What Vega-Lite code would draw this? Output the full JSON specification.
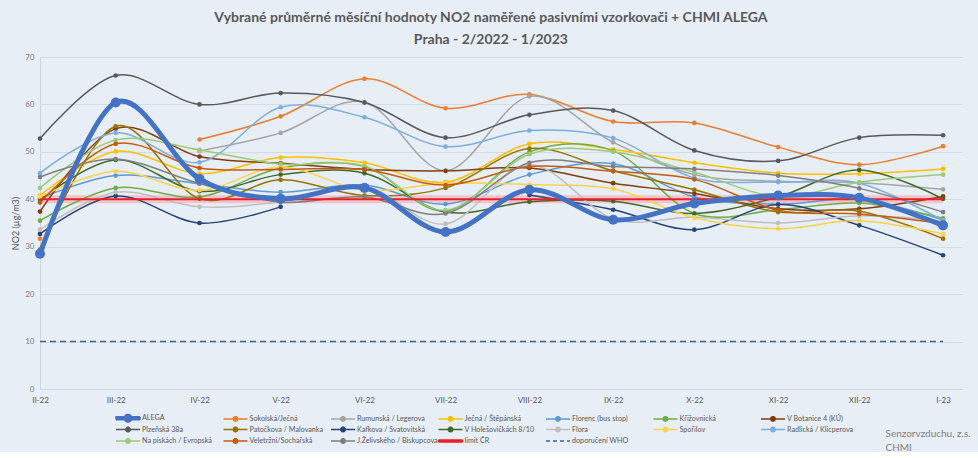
{
  "$schema": "https://vega.github.io/schema/vega-lite/v6.json",
  "width": 922,
  "height": 332,
  "padding": {"left": 11, "top": 11, "right": 16, "bottom": 0},
  "background": "#E7EEF6",
  "config": {"view": {"stroke": null}, "font": "Lato"},
  "title": {
    "text": "Vybrané průměrné měsíční hodnoty NO2 naměřené pasivními vzorkovači + CHMI ALEGA",
    "subtitle": "Praha - 2/2022 - 1/2023",
    "anchor": "middle", "frame": "bounds",
    "font": "Lato", "fontSize": 14, "fontWeight": "bold", "color": "#595959",
    "subtitleFont": "Lato", "subtitleFontSize": 14, "subtitleFontWeight": "bold", "subtitleColor": "#595959",
    "subtitlePadding": 8, "offset": 6
  },
  "data": {"values": [
    {"m":"2022-02-01","s":"ALEGA","v":28.5},{"m":"2022-03-01","s":"ALEGA","v":60.4},{"m":"2022-04-01","s":"ALEGA","v":44.3},{"m":"2022-05-01","s":"ALEGA","v":40.1},{"m":"2022-06-01","s":"ALEGA","v":42.4},{"m":"2022-07-01","s":"ALEGA","v":33.1},{"m":"2022-08-01","s":"ALEGA","v":42.0},{"m":"2022-09-01","s":"ALEGA","v":35.7},{"m":"2022-10-01","s":"ALEGA","v":39.1},{"m":"2022-11-01","s":"ALEGA","v":40.8},{"m":"2022-12-01","s":"ALEGA","v":40.3},{"m":"2023-01-01","s":"ALEGA","v":34.5},
    {"m":"2022-02-01","s":"Sokolská/Ječná","v":31.7},{"m":"2022-03-01","s":"Sokolská/Ječná","v":null},{"m":"2022-04-01","s":"Sokolská/Ječná","v":52.6},{"m":"2022-05-01","s":"Sokolská/Ječná","v":57.5},{"m":"2022-06-01","s":"Sokolská/Ječná","v":65.4},{"m":"2022-07-01","s":"Sokolská/Ječná","v":59.2},{"m":"2022-08-01","s":"Sokolská/Ječná","v":62.1},{"m":"2022-09-01","s":"Sokolská/Ječná","v":56.4},{"m":"2022-10-01","s":"Sokolská/Ječná","v":56.1},{"m":"2022-11-01","s":"Sokolská/Ječná","v":51.0},{"m":"2022-12-01","s":"Sokolská/Ječná","v":47.3},{"m":"2023-01-01","s":"Sokolská/Ječná","v":51.2},
    {"m":"2022-02-01","s":"Rumunská / Legerova","v":null},{"m":"2022-03-01","s":"Rumunská / Legerova","v":null},{"m":"2022-04-01","s":"Rumunská / Legerova","v":50.2},{"m":"2022-05-01","s":"Rumunská / Legerova","v":54.0},{"m":"2022-06-01","s":"Rumunská / Legerova","v":60.5},{"m":"2022-07-01","s":"Rumunská / Legerova","v":46.0},{"m":"2022-08-01","s":"Rumunská / Legerova","v":61.7},{"m":"2022-09-01","s":"Rumunská / Legerova","v":52.0},{"m":"2022-10-01","s":"Rumunská / Legerova","v":45.2},{"m":"2022-11-01","s":"Rumunská / Legerova","v":43.8},{"m":"2022-12-01","s":"Rumunská / Legerova","v":43.5},{"m":"2023-01-01","s":"Rumunská / Legerova","v":42.1},
    {"m":"2022-02-01","s":"Ječná / Štěpánská","v":40.8},{"m":"2022-03-01","s":"Ječná / Štěpánská","v":50.1},{"m":"2022-04-01","s":"Ječná / Štěpánská","v":45.4},{"m":"2022-05-01","s":"Ječná / Štěpánská","v":48.8},{"m":"2022-06-01","s":"Ječná / Štěpánská","v":47.7},{"m":"2022-07-01","s":"Ječná / Štěpánská","v":43.6},{"m":"2022-08-01","s":"Ječná / Štěpánská","v":51.7},{"m":"2022-09-01","s":"Ječná / Štěpánská","v":50.5},{"m":"2022-10-01","s":"Ječná / Štěpánská","v":47.7},{"m":"2022-11-01","s":"Ječná / Štěpánská","v":45.5},{"m":"2022-12-01","s":"Ječná / Štěpánská","v":45.4},{"m":"2023-01-01","s":"Ječná / Štěpánská","v":46.4},
    {"m":"2022-02-01","s":"Florenc (bus stop)","v":40.2},{"m":"2022-03-01","s":"Florenc (bus stop)","v":45.0},{"m":"2022-04-01","s":"Florenc (bus stop)","v":43.3},{"m":"2022-05-01","s":"Florenc (bus stop)","v":41.5},{"m":"2022-06-01","s":"Florenc (bus stop)","v":43.0},{"m":"2022-07-01","s":"Florenc (bus stop)","v":39.0},{"m":"2022-08-01","s":"Florenc (bus stop)","v":45.2},{"m":"2022-09-01","s":"Florenc (bus stop)","v":47.5},{"m":"2022-10-01","s":"Florenc (bus stop)","v":40.5},{"m":"2022-11-01","s":"Florenc (bus stop)","v":39.0},{"m":"2022-12-01","s":"Florenc (bus stop)","v":40.0},{"m":"2023-01-01","s":"Florenc (bus stop)","v":35.7},
    {"m":"2022-02-01","s":"Křižovnická","v":35.5},{"m":"2022-03-01","s":"Křižovnická","v":42.4},{"m":"2022-04-01","s":"Křižovnická","v":40.5},{"m":"2022-05-01","s":"Křižovnická","v":46.6},{"m":"2022-06-01","s":"Křižovnická","v":46.9},{"m":"2022-07-01","s":"Křižovnická","v":37.5},{"m":"2022-08-01","s":"Křižovnická","v":50.0},{"m":"2022-09-01","s":"Křižovnická","v":50.2},{"m":"2022-10-01","s":"Křižovnická","v":37.0},{"m":"2022-11-01","s":"Křižovnická","v":37.8},{"m":"2022-12-01","s":"Křižovnická","v":39.2},{"m":"2023-01-01","s":"Křižovnická","v":36.0},
    {"m":"2022-02-01","s":"V Botanice 4 (KÚ)","v":37.4},{"m":"2022-03-01","s":"V Botanice 4 (KÚ)","v":54.9},{"m":"2022-04-01","s":"V Botanice 4 (KÚ)","v":49.0},{"m":"2022-05-01","s":"V Botanice 4 (KÚ)","v":47.6},{"m":"2022-06-01","s":"V Botanice 4 (KÚ)","v":46.3},{"m":"2022-07-01","s":"V Botanice 4 (KÚ)","v":46.0},{"m":"2022-08-01","s":"V Botanice 4 (KÚ)","v":46.6},{"m":"2022-09-01","s":"V Botanice 4 (KÚ)","v":43.4},{"m":"2022-10-01","s":"V Botanice 4 (KÚ)","v":41.2},{"m":"2022-11-01","s":"V Botanice 4 (KÚ)","v":38.0},{"m":"2022-12-01","s":"V Botanice 4 (KÚ)","v":38.0},{"m":"2023-01-01","s":"V Botanice 4 (KÚ)","v":40.6},
    {"m":"2022-02-01","s":"Plzeňská 38a","v":52.8},{"m":"2022-03-01","s":"Plzeňská 38a","v":66.1},{"m":"2022-04-01","s":"Plzeňská 38a","v":60.0},{"m":"2022-05-01","s":"Plzeňská 38a","v":62.4},{"m":"2022-06-01","s":"Plzeňská 38a","v":60.4},{"m":"2022-07-01","s":"Plzeňská 38a","v":53.0},{"m":"2022-08-01","s":"Plzeňská 38a","v":57.8},{"m":"2022-09-01","s":"Plzeňská 38a","v":58.7},{"m":"2022-10-01","s":"Plzeňská 38a","v":50.3},{"m":"2022-11-01","s":"Plzeňská 38a","v":48.1},{"m":"2022-12-01","s":"Plzeňská 38a","v":53.0},{"m":"2023-01-01","s":"Plzeňská 38a","v":53.5},
    {"m":"2022-02-01","s":"Patočkova / Malovanka","v":29.4},{"m":"2022-03-01","s":"Patočkova / Malovanka","v":55.4},{"m":"2022-04-01","s":"Patočkova / Malovanka","v":40.1},{"m":"2022-05-01","s":"Patočkova / Malovanka","v":44.1},{"m":"2022-06-01","s":"Patočkova / Malovanka","v":40.8},{"m":"2022-07-01","s":"Patočkova / Malovanka","v":42.4},{"m":"2022-08-01","s":"Patočkova / Malovanka","v":50.7},{"m":"2022-09-01","s":"Patočkova / Malovanka","v":46.0},{"m":"2022-10-01","s":"Patočkova / Malovanka","v":42.0},{"m":"2022-11-01","s":"Patočkova / Malovanka","v":37.3},{"m":"2022-12-01","s":"Patočkova / Malovanka","v":37.5},{"m":"2023-01-01","s":"Patočkova / Malovanka","v":31.7},
    {"m":"2022-02-01","s":"Kafkova / Svatovitská","v":32.7},{"m":"2022-03-01","s":"Kafkova / Svatovitská","v":40.7},{"m":"2022-04-01","s":"Kafkova / Svatovitská","v":35.0},{"m":"2022-05-01","s":"Kafkova / Svatovitská","v":38.4},{"m":"2022-06-01","s":"Kafkova / Svatovitská","v":null},{"m":"2022-07-01","s":"Kafkova / Svatovitská","v":null},{"m":"2022-08-01","s":"Kafkova / Svatovitská","v":40.9},{"m":"2022-09-01","s":"Kafkova / Svatovitská","v":37.8},{"m":"2022-10-01","s":"Kafkova / Svatovitská","v":33.6},{"m":"2022-11-01","s":"Kafkova / Svatovitská","v":38.9},{"m":"2022-12-01","s":"Kafkova / Svatovitská","v":34.5},{"m":"2023-01-01","s":"Kafkova / Svatovitská","v":28.2},
    {"m":"2022-02-01","s":"V Holešovičkách 8/10","v":39.9},{"m":"2022-03-01","s":"V Holešovičkách 8/10","v":48.3},{"m":"2022-04-01","s":"V Holešovičkách 8/10","v":41.7},{"m":"2022-05-01","s":"V Holešovičkách 8/10","v":45.2},{"m":"2022-06-01","s":"V Holešovičkách 8/10","v":45.5},{"m":"2022-07-01","s":"V Holešovičkách 8/10","v":37.3},{"m":"2022-08-01","s":"V Holešovičkách 8/10","v":39.5},{"m":"2022-09-01","s":"V Holešovičkách 8/10","v":39.6},{"m":"2022-10-01","s":"V Holešovičkách 8/10","v":37.0},{"m":"2022-11-01","s":"V Holešovičkách 8/10","v":40.5},{"m":"2022-12-01","s":"V Holešovičkách 8/10","v":46.2},{"m":"2023-01-01","s":"V Holešovičkách 8/10","v":40.1},
    {"m":"2022-02-01","s":"Flora","v":33.6},{"m":"2022-03-01","s":"Flora","v":41.5},{"m":"2022-04-01","s":"Flora","v":38.4},{"m":"2022-05-01","s":"Flora","v":39.5},{"m":"2022-06-01","s":"Flora","v":42.8},{"m":"2022-07-01","s":"Flora","v":34.8},{"m":"2022-08-01","s":"Flora","v":47.3},{"m":"2022-09-01","s":"Flora","v":35.9},{"m":"2022-10-01","s":"Flora","v":36.2},{"m":"2022-11-01","s":"Flora","v":35.0},{"m":"2022-12-01","s":"Flora","v":36.5},{"m":"2023-01-01","s":"Flora","v":35.5},
    {"m":"2022-02-01","s":"Spořilov","v":40.5},{"m":"2022-03-01","s":"Spořilov","v":45.9},{"m":"2022-04-01","s":"Spořilov","v":41.9},{"m":"2022-05-01","s":"Spořilov","v":46.8},{"m":"2022-06-01","s":"Spořilov","v":41.9},{"m":"2022-07-01","s":"Spořilov","v":43.4},{"m":"2022-08-01","s":"Spořilov","v":43.1},{"m":"2022-09-01","s":"Spořilov","v":42.2},{"m":"2022-10-01","s":"Spořilov","v":36.1},{"m":"2022-11-01","s":"Spořilov","v":33.8},{"m":"2022-12-01","s":"Spořilov","v":35.5},{"m":"2023-01-01","s":"Spořilov","v":32.7},
    {"m":"2022-02-01","s":"Radlická / Klicperova","v":45.5},{"m":"2022-03-01","s":"Radlická / Klicperova","v":54.0},{"m":"2022-04-01","s":"Radlická / Klicperova","v":47.8},{"m":"2022-05-01","s":"Radlická / Klicperova","v":59.4},{"m":"2022-06-01","s":"Radlická / Klicperova","v":57.3},{"m":"2022-07-01","s":"Radlická / Klicperova","v":51.1},{"m":"2022-08-01","s":"Radlická / Klicperova","v":54.5},{"m":"2022-09-01","s":"Radlická / Klicperova","v":52.9},{"m":"2022-10-01","s":"Radlická / Klicperova","v":44.5},{"m":"2022-11-01","s":"Radlická / Klicperova","v":43.6},{"m":"2022-12-01","s":"Radlická / Klicperova","v":43.4},{"m":"2023-01-01","s":"Radlická / Klicperova","v":35.5},
    {"m":"2022-02-01","s":"Na pískách / Evropská","v":42.4},{"m":"2022-03-01","s":"Na pískách / Evropská","v":52.5},{"m":"2022-04-01","s":"Na pískách / Evropská","v":50.4},{"m":"2022-05-01","s":"Na pískách / Evropská","v":47.4},{"m":"2022-06-01","s":"Na pískách / Evropská","v":47.0},{"m":"2022-07-01","s":"Na pískách / Evropská","v":37.7},{"m":"2022-08-01","s":"Na pískách / Evropská","v":49.5},{"m":"2022-09-01","s":"Na pískách / Evropská","v":50.0},{"m":"2022-10-01","s":"Na pískách / Evropská","v":45.7},{"m":"2022-11-01","s":"Na pískách / Evropská","v":40.6},{"m":"2022-12-01","s":"Na pískách / Evropská","v":43.6},{"m":"2023-01-01","s":"Na pískách / Evropská","v":45.2},
    {"m":"2022-02-01","s":"Veletržní/Sochařská","v":39.3},{"m":"2022-03-01","s":"Veletržní/Sochařská","v":51.7},{"m":"2022-04-01","s":"Veletržní/Sochařská","v":46.6},{"m":"2022-05-01","s":"Veletržní/Sochařská","v":46.3},{"m":"2022-06-01","s":"Veletržní/Sochařská","v":46.3},{"m":"2022-07-01","s":"Veletržní/Sochařská","v":43.0},{"m":"2022-08-01","s":"Veletržní/Sochařská","v":46.9},{"m":"2022-09-01","s":"Veletržní/Sochařská","v":45.9},{"m":"2022-10-01","s":"Veletržní/Sochařská","v":44.2},{"m":"2022-11-01","s":"Veletržní/Sochařská","v":37.7},{"m":"2022-12-01","s":"Veletržní/Sochařská","v":36.9},{"m":"2023-01-01","s":"Veletržní/Sochařská","v":34.9},
    {"m":"2022-02-01","s":"J.Želivského / Biskupcova","v":44.7},{"m":"2022-03-01","s":"J.Želivského / Biskupcova","v":48.5},{"m":"2022-04-01","s":"J.Želivského / Biskupcova","v":43.3},{"m":"2022-05-01","s":"J.Želivského / Biskupcova","v":39.4},{"m":"2022-06-01","s":"J.Želivského / Biskupcova","v":40.5},{"m":"2022-07-01","s":"J.Želivského / Biskupcova","v":37.0},{"m":"2022-08-01","s":"J.Želivského / Biskupcova","v":47.7},{"m":"2022-09-01","s":"J.Želivského / Biskupcova","v":46.9},{"m":"2022-10-01","s":"J.Želivského / Biskupcova","v":46.4},{"m":"2022-11-01","s":"J.Želivského / Biskupcova","v":45.0},{"m":"2022-12-01","s":"J.Želivského / Biskupcova","v":42.3},{"m":"2023-01-01","s":"J.Želivského / Biskupcova","v":37.3},
    {"m":"2022-02-01","s":"limit ČR","v":40},{"m":"2022-03-01","s":"limit ČR","v":40},{"m":"2022-04-01","s":"limit ČR","v":40},{"m":"2022-05-01","s":"limit ČR","v":40},{"m":"2022-06-01","s":"limit ČR","v":40},{"m":"2022-07-01","s":"limit ČR","v":40},{"m":"2022-08-01","s":"limit ČR","v":40},{"m":"2022-09-01","s":"limit ČR","v":40},{"m":"2022-10-01","s":"limit ČR","v":40},{"m":"2022-11-01","s":"limit ČR","v":40},{"m":"2022-12-01","s":"limit ČR","v":40},{"m":"2023-01-01","s":"limit ČR","v":40},
    {"m":"2022-02-01","s":"doporučení WHO","v":10},{"m":"2022-03-01","s":"doporučení WHO","v":10},{"m":"2022-04-01","s":"doporučení WHO","v":10},{"m":"2022-05-01","s":"doporučení WHO","v":10},{"m":"2022-06-01","s":"doporučení WHO","v":10},{"m":"2022-07-01","s":"doporučení WHO","v":10},{"m":"2022-08-01","s":"doporučení WHO","v":10},{"m":"2022-09-01","s":"doporučení WHO","v":10},{"m":"2022-10-01","s":"doporučení WHO","v":10},{"m":"2022-11-01","s":"doporučení WHO","v":10},{"m":"2022-12-01","s":"doporučení WHO","v":10},{"m":"2023-01-01","s":"doporučení WHO","v":10}
  ]},
  "encoding": {
    "x": {
      "field": "m", "type": "temporal",
      "scale": {"type": "utc", "domain": [{"year": 2022, "month": 2, "date": 1, "utc": true}, {"year": 2023, "month": 1, "date": 8, "utc": true}]},
      "axis": {
        "tickCount": {"interval": "month", "step": 1},
        "labelExpr": "['I','II','III','IV','V','VI','VII','VIII','IX','X','XI','XII'][utcmonth(datum.value)] + '-' + utcFormat(datum.value, '%y')",
        "labelFlush": false, "labelOverlap": false,
        "grid": false, "ticks": false,
        "domainColor": "#CDD5DF",
        "labelColor": "#595959", "labelFont": "Lato", "labelFontSize": 8, "labelPadding": 7,
        "title": ["Senzorvzduchu, z.s.", "CHMI"],
        "titleX": 845, "titleY": 39, "titleAlign": "left", "titleBaseline": "top", "titleAnchor": "start",
        "titleFont": "Lato", "titleFontSize": 10, "titleFontWeight": "normal", "titleColor": "#7F7F7F", "titleLineHeight": 14
      }
    },
    "y": {
      "field": "v", "type": "quantitative",
      "scale": {"domain": [0, 70], "nice": false},
      "axis": {
        "values": [0, 10, 20, 30, 40, 50, 60, 70],
        "grid": true, "gridColor": "#D3DBE5", "ticks": false,
        "domain": true, "domainColor": "#CDD5DF",
        "labelColor": "#7F7F7F", "labelFont": "Lato", "labelFontSize": 8, "labelPadding": 6,
        "title": "NO2 (µg/m3)", "titleFont": "Lato", "titleFontSize": 9, "titleFontWeight": "normal", "titleColor": "#595959", "titlePadding": 4
      }
    },
    "color": {
      "field": "s", "type": "nominal",
      "scale": {
        "domain": ["ALEGA", "Sokolská/Ječná", "Rumunská / Legerova", "Ječná / Štěpánská", "Florenc (bus stop)", "Křižovnická", "V Botanice 4 (KÚ)", "Plzeňská 38a", "Patočkova / Malovanka", "Kafkova / Svatovitská", "V Holešovičkách 8/10", "Flora", "Spořilov", "Radlická / Klicperova", "Na pískách / Evropská", "Veletržní/Sochařská", "J.Želivského / Biskupcova", "limit ČR", "doporučení WHO"],
        "range": ["#4472C4", "#ED7D31", "#A5A5A5", "#FFC000", "#5B9BD5", "#70AD47", "#843C0C", "#595959", "#997300", "#264478", "#43682B", "#BFBFBF", "#FFD34D", "#7EAEDD", "#9BCB7A", "#C55A11", "#7F7F7F", "#E8202A", "#3E6491"]
      },
      "legend": {
        "orient": "none", "legendX": 89, "legendY": 355,
        "title": null, "columns": 7, "direction": "horizontal",
        "gridAlign": "all", "columnPadding": -0.5, "rowPadding": 0.5,
        "symbolSize": 100, "labelOffset": 1,
        "labelFont": "Lato", "labelFontSize": 7.2, "labelColor": "#595959", "labelLimit": 200,
        "padding": 0,
        "encode": {
          "symbols": {"update": {
            "shape": {"signal": "datum.value === 'limit ČR' ? 'M-3.8,-0.2H1V0.2H-3.8Z' : (datum.value === 'doporučení WHO' ? 'M-3.8,0H1' : (datum.value === 'ALEGA' ? 'M-3.8,-0.3H1V0.3H-3.8ZM-2.15,0A0.75,0.75,0,1,1,-0.65,0A0.75,0.75,0,1,1,-2.15,0Z' : 'M-3.8,0H1M-1.85,0A0.45,0.45,0,1,1,-0.95,0A0.45,0.45,0,1,1,-1.85,0Z'))"},
            "fill": {"signal": "scale('color', datum.value)"},
            "stroke": {"signal": "scale('color', datum.value)"},
            "strokeWidth": {"value": 1.5},
            "strokeJoin": {"value": "round"},
            "strokeDash": {"signal": "datum.value === 'doporučení WHO' ? [4, 3] : [1, 0]"},
            "opacity": {"value": 1}
          }}
        }
      }
    }
  },
  "layer": [
    {
      "transform": [{"filter": "datum.s === 'limit ČR'"}],
      "mark": {"type": "line", "strokeWidth": 8, "opacity": 0.75},
      "encoding": {"color": {"value": "#F5B5BD"}}
    },
    {
      "transform": [{"filter": "datum.s === 'doporučení WHO'"}],
      "mark": {"type": "line", "strokeWidth": 1.5, "strokeDash": [6, 4]}
    },
    {
      "transform": [{"filter": "datum.s !== 'limit ČR' && datum.s !== 'ALEGA' && datum.s !== 'doporučení WHO'"}],
      "mark": {"type": "line", "interpolate": "cardinal", "strokeWidth": 1.5, "invalid": "break-paths-show-domains"}
    },
    {
      "transform": [{"filter": "datum.s !== 'limit ČR' && datum.s !== 'ALEGA' && datum.s !== 'doporučení WHO' && isValid(datum.v)"}],
      "mark": {"type": "point", "filled": true, "size": 22, "opacity": 1}
    },
    {
      "transform": [{"filter": "datum.s === 'limit ČR'"}],
      "mark": {"type": "line", "strokeWidth": 2}
    },
    {
      "transform": [{"filter": "datum.s === 'ALEGA'"}],
      "mark": {"type": "line", "interpolate": "cardinal", "strokeWidth": 5}
    },
    {
      "transform": [{"filter": "datum.s === 'ALEGA'"}],
      "mark": {"type": "point", "filled": true, "size": 100, "opacity": 1}
    }
  ]
}
